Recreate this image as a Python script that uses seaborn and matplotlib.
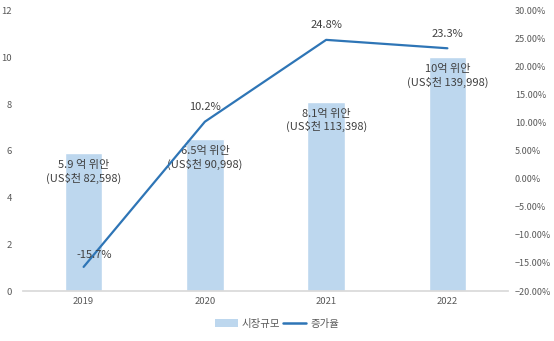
import matplotlib
matplotlib.use("Agg")
import matplotlib.pyplot as plt
import seaborn as sns
import pandas as pd
from matplotlib.patches import Patch
from matplotlib.lines import Line2D
from matplotlib.ticker import PercentFormatter

years = ["2019", "2020", "2021", "2022"]
market_size = [5.9, 6.5, 8.1, 10.0]
growth = [-15.7, 10.2, 24.8, 23.3]
bar_labels = ["5.9 억 위안\n(US$천 82,598)", "6.5억 위안\n(US$천 90,998)",
              "8.1억 위안\n(US$천 113,398)", "10억 위안\n(US$천 139,998)"]
growth_labels = ["-15.7%", "10.2%", "24.8%", "23.3%"]
left_ticks = [0, 2, 4, 6, 8, 10, 12]
right_ticks = [-20, -15, -10, -5, 0, 5, 10, 15, 20, 25, 30]

sns.set_theme(style="white")
plt.rcParams["font.family"] = ["Noto Sans CJK KR", "DejaVu Sans"]

bar_color = "#BDD7EE"
line_color = "#2E75B6"
text_color = "#595959"

df = pd.DataFrame({"year": years, "size": market_size, "growth": growth})

fig = plt.figure(figsize=(5.54, 3.41), dpi=100)
ax = fig.add_axes([0.0415, 0.1466, 0.8755, 0.822])
sns.barplot(data=df, x="year", y="size", color=bar_color, width=0.31,
            saturation=1, ax=ax)
ax.set_ylim(0, 12)
ax.set_xlim(-0.5, 3.5)
ax.set_yticks(left_ticks)
ax.set_xlabel("")
ax.set_ylabel("")
for s in ["top", "right", "left"]:
    ax.spines[s].set_visible(False)
ax.spines["bottom"].set_color("#D9D9D9")
ax.tick_params(axis="both", labelsize=6.8, colors=text_color, length=0, pad=4)
ax.tick_params(axis="y", pad=8)

for i, (v, lab) in enumerate(zip(market_size, bar_labels)):
    ax.text(i, v - 0.8, lab, ha="center", va="center", fontsize=8,
            color="#404040", linespacing=1.25)

ax2 = ax.twinx()
sns.lineplot(data=df, x="year", y="growth", color=line_color, linewidth=1.6,
             ax=ax2)
ax2.set_ylim(-20, 30)
ax2.set_yticks(right_ticks)
ax2.yaxis.set_major_formatter(PercentFormatter(decimals=2))
ax2.set_ylabel("")
ax2.set_xlabel("")
for s in ["top", "right", "left", "bottom"]:
    ax2.spines[s].set_visible(False)
ax2.tick_params(axis="y", labelsize=6.5, colors=text_color, length=0, pad=5)
ax2.set_xlim(-0.5, 3.5)

offsets = [(8, 5), (0, 7), (0, 7), (0, 7)]
for i, (g, lab) in enumerate(zip(growth, growth_labels)):
    ax2.annotate(lab, (i, g), xytext=offsets[i], textcoords="offset points",
                 ha="center", va="bottom", fontsize=8, color="#404040")

handles = [Patch(facecolor=bar_color, edgecolor="none", label="시장규모"),
           Line2D([0], [0], color=line_color, linewidth=1.8, label="증가율")]
fig.legend(handles=handles, loc="center", bbox_to_anchor=(0.5, 0.05), ncol=2,
           frameon=False, fontsize=7.5, handlelength=2.2, handleheight=0.8,
           columnspacing=0.3, handletextpad=0.4, labelcolor=text_color)

fig.savefig("out.png", dpi=100)
